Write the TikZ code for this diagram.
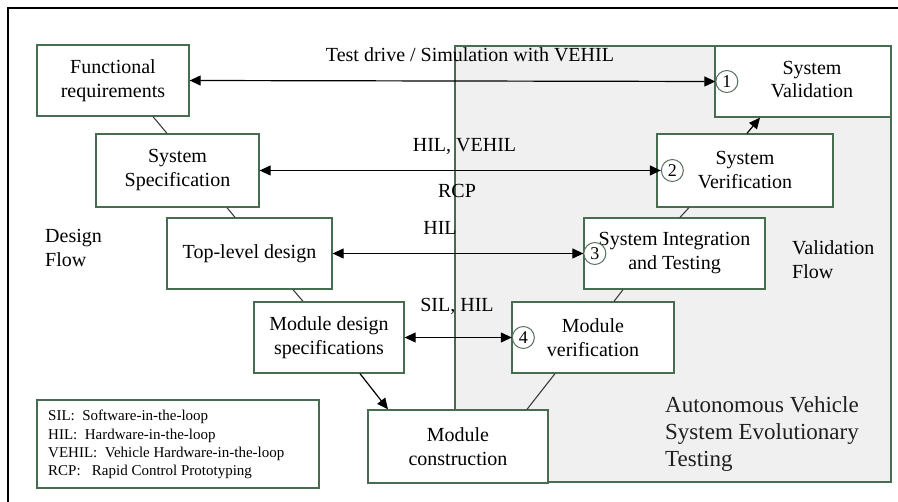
\documentclass[tikz,border=0pt]{standalone}
\usepackage{fontspec}
\setmainfont{Liberation Serif}
\usetikzlibrary{arrows.meta}

\definecolor{boxgreen}{RGB}{72,108,80}
\definecolor{circgray}{RGB}{90,112,96}
\definecolor{regiongray}{RGB}{240,240,240}
\definecolor{linegray}{RGB}{60,60,60}

\tikzset{
  >={Triangle[length=11pt,width=10pt]},
  box/.style={draw=boxgreen, line width=1.3pt, fill=white, rectangle,
    align=center, inner sep=0pt, font=\fontsize{20}{24}\selectfont},
  num/.style={draw=circgray, line width=1pt, fill=white, circle,
    minimum size=22pt, inner sep=0pt, font=\fontsize{18}{18}\selectfont},
  lbl/.style={anchor=base, inner sep=0pt, font=\fontsize{20}{24}\selectfont},
  side/.style={anchor=base west, inner sep=0pt, font=\fontsize{20}{24}\selectfont},
  legline/.style={anchor=base west, inner sep=0pt, font=\fontsize{15}{18}\selectfont},
  link/.style={draw=linegray, line width=1.1pt},
  arr/.style={draw=black, line width=1.2pt},
}

\begin{document}
\begin{tikzpicture}[x=1pt, y=-1pt]
\useasboundingbox (0,0) rectangle (898,502);
\fill[white] (0,0) rectangle (898,502);

% outer frame (top and left edges)
\draw[black, line width=2pt] (8,502) -- (8,8) -- (898,8);

% validation region
\draw[draw=boxgreen, line width=1.2pt, fill=regiongray] (455,46) rectangle (891,482);

% design flow boxes
\node[box, minimum width=152pt, minimum height=71pt] (fr) at (113,80.5) {Functional\\requirements};
\node[box, minimum width=163pt, minimum height=73pt] (ss) at (177.5,170.5) {System\\Specification};
\node[box, minimum width=165pt, minimum height=71pt] (tl) at (249.5,253.5) {Top-level design};
\node[box, minimum width=150pt, minimum height=71pt] (md) at (329,337.5) {Module design\\specifications};
\node[box, minimum width=180pt, minimum height=73pt] (mc) at (458,446.5) {Module\\construction};

% validation flow boxes
\node[box, minimum width=176pt, minimum height=71pt] (sval) at (803,81.5) {};
\node[lbl, anchor=center] (svaltext) at ([xshift=9pt]sval.center) {\begin{tabular}{@{}c@{}}System\\[-1pt]Validation\end{tabular}};
\node[box, minimum width=176pt, minimum height=73pt] (sver) at (745,170.5) {System\\Verification};
\node[box, minimum width=181pt, minimum height=71pt] (si) at (674.5,253.5) {System Integration\\and Testing};
\node[box, minimum width=162pt, minimum height=71pt] (mv) at (593,337.5) {Module\\verification};

% numbered markers
\node[num] (c1) at ([xshift=12.5pt]sval.west) {1};
\node[num] (c2) at ([xshift=16pt]sver.west) {2};
\node[num] (c3) at ([xshift=11.5pt]si.west) {3};
\node[num] (c4) at ([xshift=12pt]mv.west) {4};

% V-model links
\draw[link] ([xshift=40pt]fr.south) -- ([xshift=-10.5pt]ss.north);
\draw[link] ([xshift=49.5pt]ss.south) -- ([xshift=-14.5pt]tl.north);
\draw[link] ([xshift=43.5pt]tl.south) -- ([xshift=-26pt]md.north);
\draw[arr, ->] ([xshift=31pt]md.south) -- ([xshift=-70pt]mc.north);
\draw[link] ([xshift=69pt]mc.north) -- ([xshift=-38pt]mv.south);
\draw[link] ([xshift=21pt]mv.north) -- ([xshift=-51.5pt]si.south);
\draw[link] ([xshift=5.5pt]si.north) -- ([xshift=-56pt]sver.south);
\draw[arr, ->] ([xshift=2pt]sver.north) -- ([xshift=-43pt]sval.south);

% test level arrows
\draw[arr, <->] (fr.east) -- (c1.west);
\draw[arr, <->] (ss.east) -- (c2.west);
\draw[arr, <->] (tl.east) -- (c3.west |- tl.east);
\draw[arr, <->] (md.east) -- (c4.west |- md.east);

% arrow labels
\node[lbl] (l1) at (470,62) {Test drive / Simulation with VEHIL};
\node[lbl] (l2) at (464.5,152) {HIL, VEHIL};
\node[lbl] (l3) at (457,198) {RCP};
\node[lbl] (l4) at (440,235) {HIL};
\node[lbl] (l5) at (457,312) {SIL, HIL};

% flow captions
\node[side] (dflow1) at (45,243) {Design};
\node[side] (dflow2) at (45,267) {Flow};
\node[side] (vflow1) at (792,255) {Validation};
\node[side] (vflow2) at (792,279) {Flow};
\node[side, font=\fontsize{23}{27}\selectfont, text=black!88] (ave1) at (665,413) {Autonomous Vehicle};
\node[side, font=\fontsize{23}{27}\selectfont, text=black!88] (ave2) at (665,440) {System Evolutionary};
\node[side, font=\fontsize{23}{27}\selectfont, text=black!88] (ave3) at (665,467) {Testing};

% abbreviation legend
\node[draw=boxgreen, line width=1.2pt, fill=white, minimum width=282pt, minimum height=88pt] (legend) at (178,444) {};
\node[legline] (leg1) at (48,421) {SIL:\ \ Software-in-the-loop};
\node[legline] (leg2) at (48,439.5) {HIL:\ \ Hardware-in-the-loop};
\node[legline] (leg3) at (48,457.5) {VEHIL:\ \ Vehicle Hardware-in-the-loop};
\node[legline] (leg4) at (48,476) {RCP:\ \ \ Rapid Control Prototyping};
\end{tikzpicture}
\end{document}
